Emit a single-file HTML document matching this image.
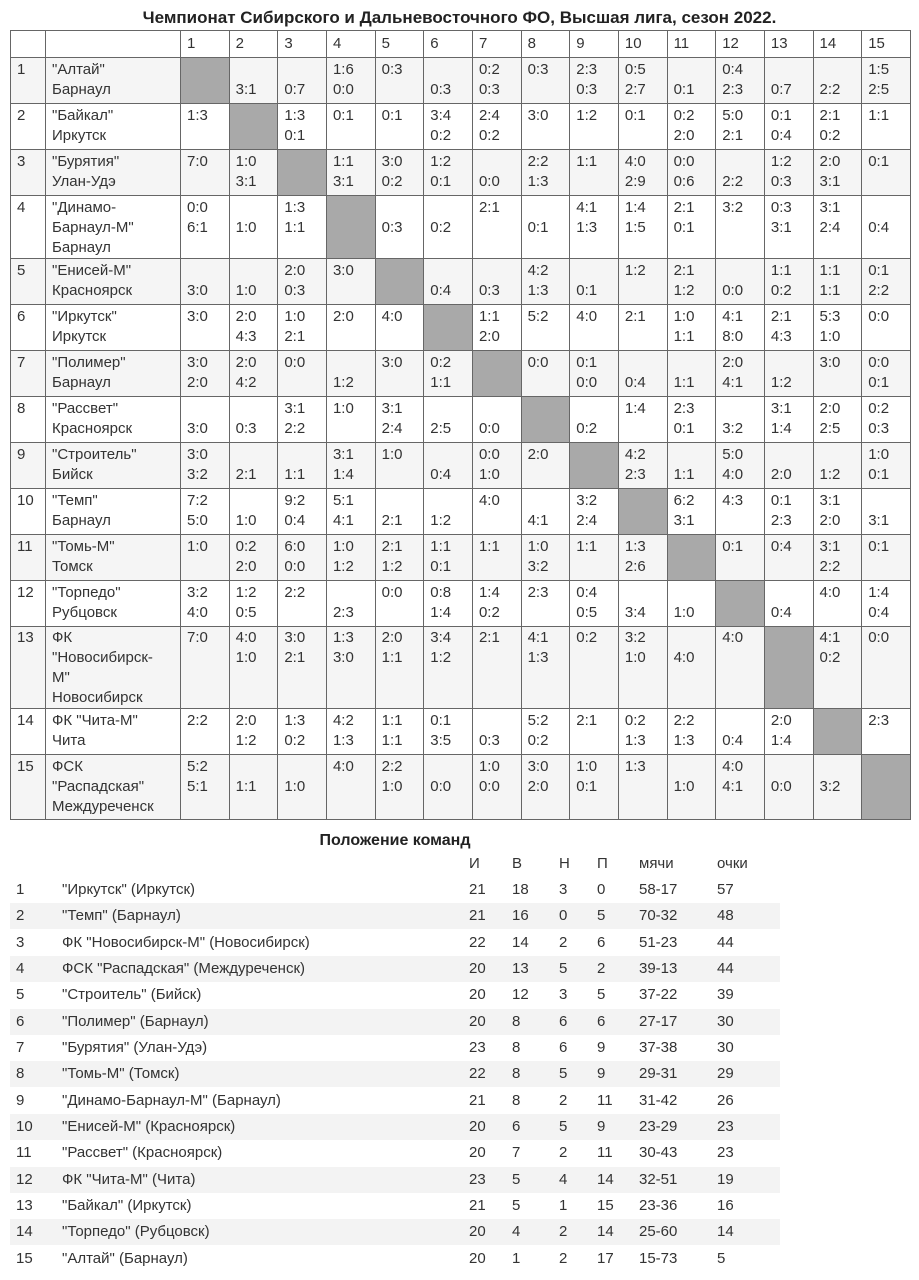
<!DOCTYPE html>
<html><head><meta charset="utf-8">
<style>
body{margin:0;width:919px;height:1280px;background:#fff;font-family:"Liberation Sans",sans-serif;color:#333;position:relative;overflow:hidden}
.title{position:absolute;left:0;width:919px;top:8px;text-align:center;font-weight:bold;font-size:17px;color:#222}
table{position:absolute;left:10px;top:30px;border-collapse:collapse;table-layout:fixed;width:900px;font-size:15px;line-height:20px}
td{border:1px solid #666;vertical-align:top;padding:2px 0 0 6px;white-space:nowrap;overflow:hidden}
tr.o td{background:#f5f5f5}
td.x{background:#a9a9a9 !important}
tr.h td{padding-top:3px}
tr.t td{padding-top:1px}
.st{position:absolute;left:10px;width:770px;height:26px;font-size:15px;line-height:26px}
.st.g{background:#f3f3f3}
.st span{position:absolute;top:0}
.h2{position:absolute;left:0;width:790px;top:832px;text-align:center;font-weight:bold;font-size:16px;color:#222}
</style></head><body>
<div class="title">Чемпионат Сибирского и Дальневосточного ФО, Высшая лига, сезон 2022.</div>
<table>
<colgroup><col style="width:35px"><col style="width:135px"><col span="15" style="width:48.67px"></colgroup>
<tr class="h" style="height:27px"><td></td><td></td><td>1</td><td>2</td><td>3</td><td>4</td><td>5</td><td>6</td><td>7</td><td>8</td><td>9</td><td>10</td><td>11</td><td>12</td><td>13</td><td>14</td><td>15</td></tr>
<tr class="o" style="height:46px"><td>1</td><td>"Алтай"<br>Барнаул</td><td class="x"></td><td><br>3:1</td><td><br>0:7</td><td>1:6<br>0:0</td><td>0:3</td><td><br>0:3</td><td>0:2<br>0:3</td><td>0:3</td><td>2:3<br>0:3</td><td>0:5<br>2:7</td><td><br>0:1</td><td>0:4<br>2:3</td><td><br>0:7</td><td><br>2:2</td><td>1:5<br>2:5</td></tr>
<tr style="height:46px"><td>2</td><td>"Байкал"<br>Иркутск</td><td>1:3</td><td class="x"></td><td>1:3<br>0:1</td><td>0:1</td><td>0:1</td><td>3:4<br>0:2</td><td>2:4<br>0:2</td><td>3:0</td><td>1:2</td><td>0:1</td><td>0:2<br>2:0</td><td>5:0<br>2:1</td><td>0:1<br>0:4</td><td>2:1<br>0:2</td><td>1:1</td></tr>
<tr class="o" style="height:46px"><td>3</td><td>"Бурятия"<br>Улан-Удэ</td><td>7:0</td><td>1:0<br>3:1</td><td class="x"></td><td>1:1<br>3:1</td><td>3:0<br>0:2</td><td>1:2<br>0:1</td><td><br>0:0</td><td>2:2<br>1:3</td><td>1:1</td><td>4:0<br>2:9</td><td>0:0<br>0:6</td><td><br>2:2</td><td>1:2<br>0:3</td><td>2:0<br>3:1</td><td>0:1</td></tr>
<tr style="height:62px"><td>4</td><td>"Динамо-<br>Барнаул-М"<br>Барнаул</td><td>0:0<br>6:1</td><td><br>1:0</td><td>1:3<br>1:1</td><td class="x"></td><td><br>0:3</td><td><br>0:2</td><td>2:1</td><td><br>0:1</td><td>4:1<br>1:3</td><td>1:4<br>1:5</td><td>2:1<br>0:1</td><td>3:2</td><td>0:3<br>3:1</td><td>3:1<br>2:4</td><td><br>0:4</td></tr>
<tr class="o" style="height:46px"><td>5</td><td>"Енисей-М"<br>Красноярск</td><td><br>3:0</td><td><br>1:0</td><td>2:0<br>0:3</td><td>3:0</td><td class="x"></td><td><br>0:4</td><td><br>0:3</td><td>4:2<br>1:3</td><td><br>0:1</td><td>1:2</td><td>2:1<br>1:2</td><td><br>0:0</td><td>1:1<br>0:2</td><td>1:1<br>1:1</td><td>0:1<br>2:2</td></tr>
<tr style="height:46px"><td>6</td><td>"Иркутск"<br>Иркутск</td><td>3:0</td><td>2:0<br>4:3</td><td>1:0<br>2:1</td><td>2:0</td><td>4:0</td><td class="x"></td><td>1:1<br>2:0</td><td>5:2</td><td>4:0</td><td>2:1</td><td>1:0<br>1:1</td><td>4:1<br>8:0</td><td>2:1<br>4:3</td><td>5:3<br>1:0</td><td>0:0</td></tr>
<tr class="o" style="height:46px"><td>7</td><td>"Полимер"<br>Барнаул</td><td>3:0<br>2:0</td><td>2:0<br>4:2</td><td>0:0</td><td><br>1:2</td><td>3:0</td><td>0:2<br>1:1</td><td class="x"></td><td>0:0</td><td>0:1<br>0:0</td><td><br>0:4</td><td><br>1:1</td><td>2:0<br>4:1</td><td><br>1:2</td><td>3:0</td><td>0:0<br>0:1</td></tr>
<tr style="height:46px"><td>8</td><td>"Рассвет"<br>Красноярск</td><td><br>3:0</td><td><br>0:3</td><td>3:1<br>2:2</td><td>1:0</td><td>3:1<br>2:4</td><td><br>2:5</td><td><br>0:0</td><td class="x"></td><td><br>0:2</td><td>1:4</td><td>2:3<br>0:1</td><td><br>3:2</td><td>3:1<br>1:4</td><td>2:0<br>2:5</td><td>0:2<br>0:3</td></tr>
<tr class="o" style="height:46px"><td>9</td><td>"Строитель"<br>Бийск</td><td>3:0<br>3:2</td><td><br>2:1</td><td><br>1:1</td><td>3:1<br>1:4</td><td>1:0</td><td><br>0:4</td><td>0:0<br>1:0</td><td>2:0</td><td class="x"></td><td>4:2<br>2:3</td><td><br>1:1</td><td>5:0<br>4:0</td><td><br>2:0</td><td><br>1:2</td><td>1:0<br>0:1</td></tr>
<tr style="height:46px"><td>10</td><td>"Темп"<br>Барнаул</td><td>7:2<br>5:0</td><td><br>1:0</td><td>9:2<br>0:4</td><td>5:1<br>4:1</td><td><br>2:1</td><td><br>1:2</td><td>4:0</td><td><br>4:1</td><td>3:2<br>2:4</td><td class="x"></td><td>6:2<br>3:1</td><td>4:3</td><td>0:1<br>2:3</td><td>3:1<br>2:0</td><td><br>3:1</td></tr>
<tr class="o" style="height:46px"><td>11</td><td>"Томь-М"<br>Томск</td><td>1:0</td><td>0:2<br>2:0</td><td>6:0<br>0:0</td><td>1:0<br>1:2</td><td>2:1<br>1:2</td><td>1:1<br>0:1</td><td>1:1</td><td>1:0<br>3:2</td><td>1:1</td><td>1:3<br>2:6</td><td class="x"></td><td>0:1</td><td>0:4</td><td>3:1<br>2:2</td><td>0:1</td></tr>
<tr style="height:46px"><td>12</td><td>"Торпедо"<br>Рубцовск</td><td>3:2<br>4:0</td><td>1:2<br>0:5</td><td>2:2</td><td><br>2:3</td><td>0:0</td><td>0:8<br>1:4</td><td>1:4<br>0:2</td><td>2:3</td><td>0:4<br>0:5</td><td><br>3:4</td><td><br>1:0</td><td class="x"></td><td><br>0:4</td><td>4:0</td><td>1:4<br>0:4</td></tr>
<tr class="o t" style="height:82px"><td>13</td><td>ФК<br>"Новосибирск-<br>М"<br>Новосибирск</td><td>7:0</td><td>4:0<br>1:0</td><td>3:0<br>2:1</td><td>1:3<br>3:0</td><td>2:0<br>1:1</td><td>3:4<br>1:2</td><td>2:1</td><td>4:1<br>1:3</td><td>0:2</td><td>3:2<br>1:0</td><td><br>4:0</td><td>4:0</td><td class="x"></td><td>4:1<br>0:2</td><td>0:0</td></tr>
<tr style="height:46px"><td>14</td><td>ФК "Чита-М"<br>Чита</td><td>2:2</td><td>2:0<br>1:2</td><td>1:3<br>0:2</td><td>4:2<br>1:3</td><td>1:1<br>1:1</td><td>0:1<br>3:5</td><td><br>0:3</td><td>5:2<br>0:2</td><td>2:1</td><td>0:2<br>1:3</td><td>2:2<br>1:3</td><td><br>0:4</td><td>2:0<br>1:4</td><td class="x"></td><td>2:3</td></tr>
<tr class="o" style="height:65px"><td>15</td><td>ФСК<br>"Распадская"<br>Междуреченск</td><td>5:2<br>5:1</td><td><br>1:1</td><td><br>1:0</td><td>4:0</td><td>2:2<br>1:0</td><td><br>0:0</td><td>1:0<br>0:0</td><td>3:0<br>2:0</td><td>1:0<br>0:1</td><td>1:3</td><td><br>1:0</td><td>4:0<br>4:1</td><td><br>0:0</td><td><br>3:2</td><td class="x"></td></tr>
</table>

<div class="h2">Положение команд</div>
<div class="st" style="top:851px"><span style="left:459px">И</span><span style="left:502px">В</span><span style="left:549px">Н</span><span style="left:587px">П</span><span style="left:629px">мячи</span><span style="left:707px">очки</span></div>

<div class="st" style="top:877px"><span style="left:6px">1</span><span style="left:52px">"Иркутск" (Иркутск)</span><span style="left:459px">21</span><span style="left:502px">18</span><span style="left:549px">3</span><span style="left:587px">0</span><span style="left:629px">58-17</span><span style="left:707px">57</span></div>
<div class="st g" style="top:903px"><span style="left:6px">2</span><span style="left:52px">"Темп" (Барнаул)</span><span style="left:459px">21</span><span style="left:502px">16</span><span style="left:549px">0</span><span style="left:587px">5</span><span style="left:629px">70-32</span><span style="left:707px">48</span></div>
<div class="st" style="top:930px"><span style="left:6px">3</span><span style="left:52px">ФК "Новосибирск-М" (Новосибирск)</span><span style="left:459px">22</span><span style="left:502px">14</span><span style="left:549px">2</span><span style="left:587px">6</span><span style="left:629px">51-23</span><span style="left:707px">44</span></div>
<div class="st g" style="top:956px"><span style="left:6px">4</span><span style="left:52px">ФСК "Распадская" (Междуреченск)</span><span style="left:459px">20</span><span style="left:502px">13</span><span style="left:549px">5</span><span style="left:587px">2</span><span style="left:629px">39-13</span><span style="left:707px">44</span></div>
<div class="st" style="top:982px"><span style="left:6px">5</span><span style="left:52px">"Строитель" (Бийск)</span><span style="left:459px">20</span><span style="left:502px">12</span><span style="left:549px">3</span><span style="left:587px">5</span><span style="left:629px">37-22</span><span style="left:707px">39</span></div>
<div class="st g" style="top:1009px"><span style="left:6px">6</span><span style="left:52px">"Полимер" (Барнаул)</span><span style="left:459px">20</span><span style="left:502px">8</span><span style="left:549px">6</span><span style="left:587px">6</span><span style="left:629px">27-17</span><span style="left:707px">30</span></div>
<div class="st" style="top:1035px"><span style="left:6px">7</span><span style="left:52px">"Бурятия" (Улан-Удэ)</span><span style="left:459px">23</span><span style="left:502px">8</span><span style="left:549px">6</span><span style="left:587px">9</span><span style="left:629px">37-38</span><span style="left:707px">30</span></div>
<div class="st g" style="top:1061px"><span style="left:6px">8</span><span style="left:52px">"Томь-М" (Томск)</span><span style="left:459px">22</span><span style="left:502px">8</span><span style="left:549px">5</span><span style="left:587px">9</span><span style="left:629px">29-31</span><span style="left:707px">29</span></div>
<div class="st" style="top:1088px"><span style="left:6px">9</span><span style="left:52px">"Динамо-Барнаул-М" (Барнаул)</span><span style="left:459px">21</span><span style="left:502px">8</span><span style="left:549px">2</span><span style="left:587px">11</span><span style="left:629px">31-42</span><span style="left:707px">26</span></div>
<div class="st g" style="top:1114px"><span style="left:6px">10</span><span style="left:52px">"Енисей-М" (Красноярск)</span><span style="left:459px">20</span><span style="left:502px">6</span><span style="left:549px">5</span><span style="left:587px">9</span><span style="left:629px">23-29</span><span style="left:707px">23</span></div>
<div class="st" style="top:1140px"><span style="left:6px">11</span><span style="left:52px">"Рассвет" (Красноярск)</span><span style="left:459px">20</span><span style="left:502px">7</span><span style="left:549px">2</span><span style="left:587px">11</span><span style="left:629px">30-43</span><span style="left:707px">23</span></div>
<div class="st g" style="top:1167px"><span style="left:6px">12</span><span style="left:52px">ФК "Чита-М" (Чита)</span><span style="left:459px">23</span><span style="left:502px">5</span><span style="left:549px">4</span><span style="left:587px">14</span><span style="left:629px">32-51</span><span style="left:707px">19</span></div>
<div class="st" style="top:1193px"><span style="left:6px">13</span><span style="left:52px">"Байкал" (Иркутск)</span><span style="left:459px">21</span><span style="left:502px">5</span><span style="left:549px">1</span><span style="left:587px">15</span><span style="left:629px">23-36</span><span style="left:707px">16</span></div>
<div class="st g" style="top:1219px"><span style="left:6px">14</span><span style="left:52px">"Торпедо" (Рубцовск)</span><span style="left:459px">20</span><span style="left:502px">4</span><span style="left:549px">2</span><span style="left:587px">14</span><span style="left:629px">25-60</span><span style="left:707px">14</span></div>
<div class="st" style="top:1246px"><span style="left:6px">15</span><span style="left:52px">"Алтай" (Барнаул)</span><span style="left:459px">20</span><span style="left:502px">1</span><span style="left:549px">2</span><span style="left:587px">17</span><span style="left:629px">15-73</span><span style="left:707px">5</span></div>
</body></html>
